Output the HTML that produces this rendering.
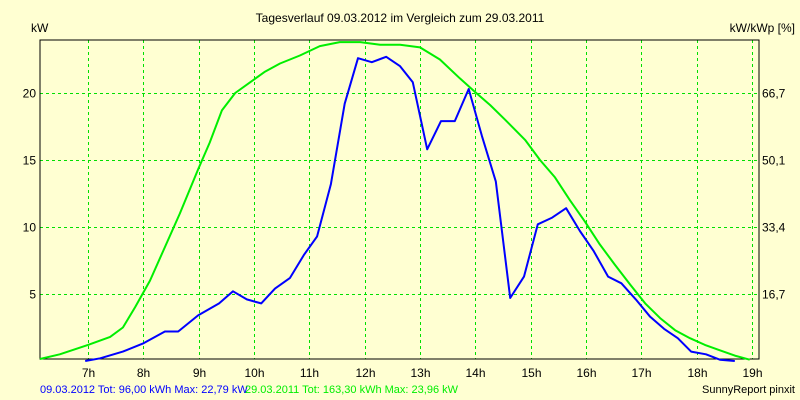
<!DOCTYPE html>
<html><head><meta charset="utf-8"><style>
body{margin:0;background:#FFFFD2;}
svg{display:block;font-family:"Liberation Sans",sans-serif;}
</style></head><body>
<svg id="chart" width="800" height="400">
<rect width="800" height="400" fill="#FFFFD2"/>
<text x="400" y="22" font-size="12" text-anchor="middle">Tagesverlauf 09.03.2012 im Vergleich zum 29.03.2011</text>
<text x="31" y="32" font-size="12">kW</text>
<text x="795" y="32" font-size="12" text-anchor="end">kW/kWp [%]</text>
<g id="grid"></g>
<g id="ticks"></g>
<rect x="40" y="40" width="719" height="319" fill="none" stroke="#000" stroke-width="1"/>
<g id="series"></g>
<text x="40" y="393" font-size="11" fill="#0000FF">09.03.2012 Tot: 96,00 kWh Max: 22,79 kW</text>
<text x="245" y="393" font-size="11" fill="#00EE00">29.03.2011 Tot: 163,30 kWh Max: 23,96 kW</text>
<text x="795" y="393" font-size="11" text-anchor="end">SunnyReport pinxit</text>
</svg>
<script>
const hourTicks=[7,8,9,10,11,12,13,14,15,16,17,18,19];
const kwTicks=[5,10,15,20];
const pctLabels=["16,7","33,4","50,1","66,7"];
const blueT=[6.95,7.22,7.63,7.99,8.39,8.63,8.99,9.37,9.62,9.87,10.13,10.38,10.65,10.90,11.14,11.39,11.64,11.88,12.13,12.39,12.64,12.87,13.13,13.38,13.63,13.88,14.12,14.37,14.63,14.88,15.13,15.39,15.64,15.89,16.14,16.40,16.64,16.90,17.16,17.41,17.66,17.90,18.17,18.42,18.69];
const blueKW=[0,0.2,0.7,1.3,2.2,2.2,3.4,4.3,5.2,4.6,4.3,5.4,6.2,7.9,9.3,13.2,19.2,22.6,22.3,22.7,22.0,20.8,15.8,17.9,17.9,20.3,16.8,13.4,4.7,6.3,10.2,10.7,11.4,9.7,8.2,6.3,5.8,4.6,3.3,2.4,1.7,0.7,0.5,0.1,0];
const greenT=[6.13,6.49,7.0,7.40,7.63,7.85,8.12,8.39,8.66,8.99,9.20,9.42,9.66,9.93,10.20,10.47,10.83,11.19,11.55,11.92,12.28,12.64,13.0,13.36,13.72,13.99,14.27,14.54,14.90,15.17,15.44,15.71,15.98,16.25,16.52,16.80,17.07,17.34,17.61,17.88,18.15,18.42,18.69,18.96];
const greenKW=[0.15,0.5,1.2,1.8,2.5,4.0,6.0,8.5,11.0,14.3,16.3,18.7,20.0,20.8,21.6,22.2,22.8,23.5,23.8,23.8,23.6,23.6,23.4,22.5,21.1,20.1,19.1,18.0,16.5,15.0,13.7,12.0,10.4,8.7,7.2,5.7,4.3,3.2,2.3,1.7,1.2,0.8,0.4,0.1];
const NS="http://www.w3.org/2000/svg";
function xS(t){return 88+(t-7)*55.33;}
function yS(v){return 361-v*13.4;}
function mk(tag,attrs,parent){const e=document.createElementNS(NS,tag);for(const k in attrs)e.setAttribute(k,attrs[k]);parent.appendChild(e);return e;}
const grid=document.getElementById('grid'),ticks=document.getElementById('ticks'),series=document.getElementById('series');
hourTicks.forEach(h=>{
  const x=Math.round(xS(h))+0.5;
  const l=mk('line',{x1:x,x2:x,y1:40,y2:359,stroke:'#00E000','stroke-dasharray':'3,3'},grid);
  
  
  const t=mk('text',{x:x,y:377,'font-size':12,'text-anchor':'middle'},ticks);
  t.textContent=h+'h';
  
  
});
kwTicks.forEach((v,i)=>{
  const y=Math.round(yS(v))+0.5;
  const l=mk('line',{x1:40,x2:759,y1:y,y2:y,stroke:'#00E000','stroke-dasharray':'3,3'},grid);
  
  
  const t=mk('text',{x:36,y:y+4,'font-size':12,'text-anchor':'end'},ticks);
  t.textContent=v;
  
  
  const r=mk('text',{x:762,y:y+4,'font-size':12},ticks);
  r.textContent=pctLabels[i];
  
  
});
function line(ts,vs,color,name){
  const pts=ts.map((t,i)=>xS(t).toFixed(1)+','+yS(vs[i]).toFixed(1)).join(' ');
  const p=mk('polyline',{points:pts,fill:'none',stroke:color,'stroke-width':2,'stroke-linejoin':'round'},series);
  
  
}
line(greenT,greenKW,'#00EE00','series-2011-line');
line(blueT,blueKW,'#0000FF','series-2012-line');
</script>
</body></html>
